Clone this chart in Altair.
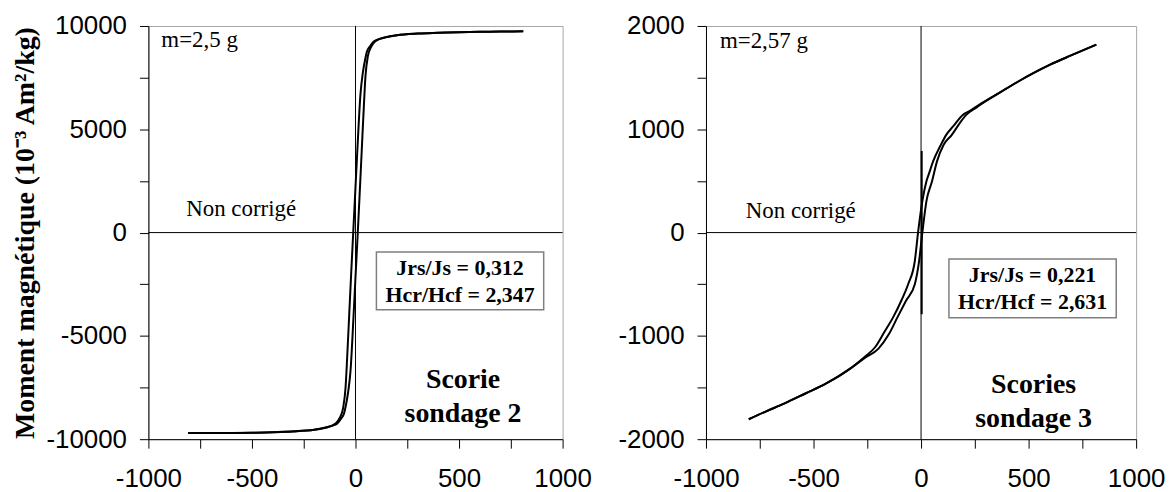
import altair as alt
import pandas as pd

# ---------------- Panel 1 : Scorie sondage 2 ----------------
s2_desc_H = [810, 700, 600, 500, 400, 300, 200, 150, 100, 88, 70, 55, 48, 35, 24, 10, 0,
             -11, -20, -30, -40, -48, -60, -75, -96, -150, -200, -300, -400, -500, -600, -700, -808]
s2_desc_M = [9740, 9730, 9715, 9700, 9670, 9630, 9550, 9460, 9320, 9250, 9020, 8750, 8450, 7700, 6700, 4200, 2200,
             0, -1800, -3900, -6000, -7500, -8500, -8950, -9240, -9450, -9540, -9620, -9660, -9690, -9700, -9705, -9700]
s2_asc_H = [-808, -700, -600, -500, -400, -300, -200, -150, -100, -88, -70, -55, -48, -35, -24, -10, 0,
            11, 20, 30, 40, 48, 60, 75, 96, 150, 200, 300, 400, 500, 600, 700, 810]
s2_asc_M = [-9700, -9705, -9700, -9690, -9665, -9625, -9545, -9455, -9310, -9240, -9010, -8740, -8440, -7680, -6680, -4150, -2150,
            0, 1850, 3950, 6050, 7550, 8550, 8980, 9260, 9470, 9555, 9635, 9670, 9700, 9715, 9730, 9740]

# ---------------- Panel 2 : Scories sondage 3 ----------------
s3_desc_H = [815, 700, 600, 524, 450, 350, 280, 225, 194, 150, 117, 90, 56, 40, 25, 6, -14, -29, -60, -90,
             -130, -170, -214, -260, -320, -443, -540, -637, -720, -801]
s3_desc_M = [1820, 1717, 1625, 1545, 1460, 1335, 1250, 1175, 1139, 1030, 946, 840, 689, 590, 496, 304, 0, -275, -500, -650,
             -821, -960, -1110, -1200, -1303, -1463, -1560, -1656, -1730, -1807]
s3_asc_H = [-801, -720, -637, -540, -443, -320, -260, -199, -150, -110, -70, -29, -9, 6, 25, 51, 74, 105, 143,
            180, 210, 260, 350, 450, 524, 600, 700, 815]
s3_asc_M = [-1807, -1730, -1656, -1560, -1463, -1303, -1210, -1126, -985, -821, -660, -500, -275, 0, 304, 496, 689, 850, 946,
            1060, 1139, 1215, 1335, 1460, 1545, 1625, 1717, 1820]
s3_spike_H = [3, 3]
s3_spike_M = [-790, 790]

x_ticks = [-1000, -750, -500, -250, 0, 250, 500, 750, 1000]
y2_ticks = [-10000, -7500, -5000, -2500, 0, 2500, 5000, 7500, 10000]
y3_ticks = [-2000, -1500, -1000, -500, 0, 500, 1000, 1500, 2000]

Y_TITLE = "Moment magnétique (10⁻³ Am²/kg)"
SERIF = "Liberation Serif"
SANS = "Liberation Sans"
HEIGHT = 415


def loop_df(branches):
    rows = []
    for name, (hs, ms) in branches.items():
        for h, m in zip(hs, ms):
            rows.append({"branch": name, "H": h, "M": m})
    return pd.DataFrame(rows)


def txt(s, x, y, size, bold=False, align="left", baseline="alphabetic"):
    return alt.Chart(pd.DataFrame({"t": [s]})).mark_text(
        font=SERIF, fontSize=size, fontWeight="bold" if bold else "normal",
        align=align, baseline=baseline, color="black"
    ).encode(x=alt.value(x), y=alt.value(y), text="t:N")


def panel(df, spike, ydom, yticks, ylabel_step, width, ytitle, mass, box, stats, name_lines):
    xs = alt.X("H:Q", scale=alt.Scale(domain=[-1000, 1000], nice=False, zero=False),
               axis=alt.Axis(values=x_ticks, labelExpr="datum.value % 500 == 0 ? toString(datum.value) : ''",
                             labelFlush=False, labelOverlap=False, labelBound=False,
                             labelPadding=18, title=None))
    yaxis_kw = dict(values=yticks,
                    labelExpr=f"datum.value % {ylabel_step} == 0 ? toString(datum.value) : ''",
                    labelOverlap=False, labelFlush=False, labelBound=False, labelPadding=13)
    if ytitle:
        yaxis_kw.update(title=ytitle, titleFont=SERIF, titleFontSize=28, titleFontWeight="bold",
                        titlePadding=6, titleColor="black")
    else:
        yaxis_kw.update(title=None)
    ys = alt.Y("M:Q", scale=alt.Scale(domain=ydom, nice=False, zero=False), axis=alt.Axis(**yaxis_kw))

    zero = pd.DataFrame({"z": [0]})
    vrule = alt.Chart(zero).mark_rule(color="black", strokeWidth=1).encode(
        x=alt.X("z:Q", scale=alt.Scale(domain=[-1000, 1000], nice=False)))
    hrule = alt.Chart(zero).mark_rule(color="black", strokeWidth=1).encode(
        y=alt.Y("z:Q", scale=alt.Scale(domain=ydom, nice=False)))

    lines = alt.Chart(df).mark_line(color="black", strokeWidth=2, interpolate="monotone").encode(
        x=xs, y=ys, detail="branch:N", order="H:Q")

    layers = [vrule, hrule, lines]
    if spike is not None:
        layers.append(alt.Chart(spike).mark_line(color="black", strokeWidth=2).encode(
            x="H:Q", y="M:Q", order="M:Q"))

    bx0, by0, bx1, by1 = box
    rect = alt.Chart(zero).mark_rect(fill="white", stroke="#7f7f7f", strokeWidth=1.5).encode(
        x=alt.value(bx0), x2=alt.value(bx1), y=alt.value(by0), y2=alt.value(by1))
    cx = (bx0 + bx1) / 2

    layers += [rect,
               txt(stats[0], cx, by0 + 23, 22, bold=True, align="center"),
               txt(stats[1], cx, by0 + 50, 22, bold=True, align="center"),
               txt(mass[0], mass[1], mass[2], 23),
               txt("Non corrigé", mass[3], mass[4], 23),
               txt(name_lines[0], name_lines[2], name_lines[3], 28, bold=True, align="center"),
               txt(name_lines[1], name_lines[2], name_lines[3] + 34, 28, bold=True, align="center")]
    return alt.layer(*layers).properties(width=width, height=HEIGHT)


df2 = loop_df({"desc": (s2_desc_H, s2_desc_M), "asc": (s2_asc_H, s2_asc_M)})
df3 = loop_df({"desc": (s3_desc_H, s3_desc_M), "asc": (s3_asc_H, s3_asc_M)})
spike3 = pd.DataFrame({"H": s3_spike_H, "M": s3_spike_M})

left = panel(df2, None, [-10000, 10000], y2_ticks, 5000, 416, Y_TITLE,
             ("m=2,5 g", 13, 21, 38, 191), (229, 227, 397, 285),
             ("Jrs/Js = 0,312", "Hcr/Hcf = 2,347"), ("Scorie", "sondage 2", 316, 364))
right = panel(df3, spike3, [-2000, 2000], y3_ticks, 1000, 432, None,
              ("m=2,57 g", 14, 22, 40, 193), (244, 234, 412, 293),
              ("Jrs/Js = 0,221", "Hcr/Hcf = 2,631"), ("Scories", "sondage 3", 329, 369))

chart = alt.hconcat(left, right, spacing=144, bounds="flush").configure_view(
    stroke="#a6a6a6", strokeWidth=1
).configure_axis(
    domainColor="black", domainWidth=1, tickColor="black", tickWidth=1, tickSize=9,
    labelFont=SANS, labelFontSize=26, labelColor="black", grid=False
).properties(
    padding={"left": 3, "top": 3, "right": 0, "bottom": 0},
    background="white"
)

chart.save("out.html", embed_options={"renderer": "svg", "actions": False})
